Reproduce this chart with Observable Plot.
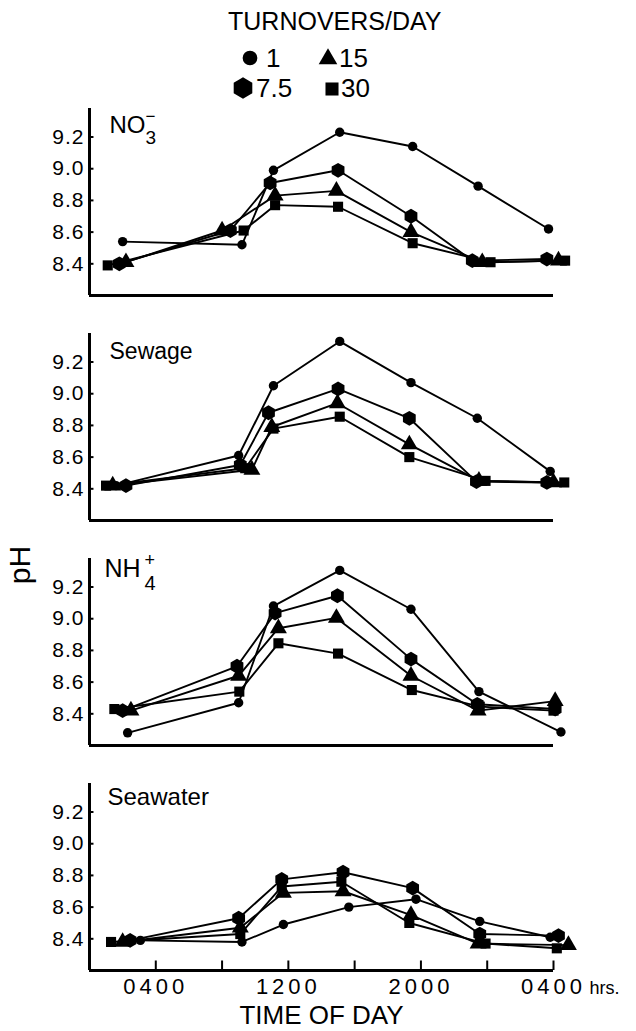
<!DOCTYPE html>
<html>
<head>
<meta charset="utf-8">
<script src="https://cdn.jsdelivr.net/npm/d3@7"></script>
<script src="https://cdn.jsdelivr.net/npm/@observablehq/plot@0.6"></script>
<style>
  html, body { margin: 0; padding: 0; background: white; }
  #wrap { position: relative; width: 636px; height: 1031px; overflow: hidden; font-family: "Liberation Sans", Arial, sans-serif; color: black; }
  #legend { position: absolute; left: 0; top: 0; overflow: visible; }
  #chart { position: absolute; left: 0; top: 100px; }
  #ylab { position: absolute; left: 20px; top: 565px; font-size: 30px; transform: translate(-50%, -50%) rotate(-90deg); white-space: nowrap; }
  .xt text { letter-spacing: 4px; }
  .yt text { letter-spacing: 1px; }
</style>
</head>
<body>
<div id="wrap">
  <svg id="legend" width="636" height="110"></svg>
  <div id="chart"></div>
  <div id="ylab">pH</div>
</div>
<script>
// ---- data: [hour of day (0 = midnight, 28 = 0400 next day), pH] ----
const panels = ["NO3", "Sewage", "NH4", "Seawater"];
const series = ["1", "7.5", "15", "30"];

const no3_1  = [[2.0, 8.54], [9.2, 8.52], [11.1, 8.99], [15.1, 9.23], [19.5, 9.14], [23.45, 8.89], [27.7, 8.62]];
const no3_75 = [[1.8, 8.40], [8.5, 8.61], [10.9, 8.91], [15.0, 8.99], [19.4, 8.70], [23.1, 8.42], [27.6, 8.43]];
const no3_15 = [[2.2, 8.41], [8.0, 8.61], [11.2, 8.83], [14.9, 8.86], [19.4, 8.60], [23.7, 8.41], [28.3, 8.42]];
const no3_30 = [[1.1, 8.39], [9.3, 8.61], [11.2, 8.77], [15.0, 8.76], [19.5, 8.53], [24.2, 8.41], [28.7, 8.42]];

const sew_1  = [[1.6, 8.42], [9.0, 8.61], [11.1, 9.05], [15.1, 9.33], [19.4, 9.07], [23.4, 8.845], [27.8, 8.51]];
const sew_75 = [[2.2, 8.42], [9.1, 8.55], [10.8, 8.88], [15.0, 9.03], [19.3, 8.845], [23.35, 8.445], [27.6, 8.44]];
const sew_15 = [[1.4, 8.42], [9.8, 8.52], [11.0, 8.79], [14.96, 8.94], [19.3, 8.68], [23.5, 8.45], [28.0, 8.44]];
const sew_30 = [[1.0, 8.42], [9.4, 8.53], [11.1, 8.78], [15.1, 8.855], [19.3, 8.60], [23.9, 8.45], [28.65, 8.44]];

const nh4_1  = [[2.3, 8.28], [9.0, 8.47], [11.1, 9.08], [15.1, 9.305], [19.4, 9.06], [23.5, 8.54], [28.45, 8.285]];
const nh4_75 = [[2.0, 8.42], [8.9, 8.70], [11.2, 9.035], [14.96, 9.145], [19.4, 8.745], [23.4, 8.46], [28.1, 8.43]];
const nh4_15 = [[2.5, 8.42], [9.0, 8.64], [11.4, 8.94], [14.9, 9.005], [19.4, 8.64], [23.45, 8.42], [28.1, 8.48]];
const nh4_30 = [[1.5, 8.43], [9.04, 8.54], [11.4, 8.845], [15.0, 8.78], [19.45, 8.55], [23.55, 8.445], [28.0, 8.42]];

const sea_1  = [[3.07, 8.39], [9.2, 8.38], [11.7, 8.49], [15.65, 8.60], [19.7, 8.65], [23.55, 8.51], [27.8, 8.41]];
const sea_75 = [[2.45, 8.39], [9.0, 8.53], [11.6, 8.775], [15.3, 8.82], [19.5, 8.72], [23.55, 8.43], [28.3, 8.42]];
const sea_15 = [[2.0, 8.38], [9.1, 8.47], [11.7, 8.69], [15.3, 8.70], [19.4, 8.55], [23.45, 8.37], [28.9, 8.36]];
const sea_30 = [[1.3, 8.38], [9.1, 8.43], [11.6, 8.73], [15.2, 8.76], [19.3, 8.50], [23.9, 8.37], [28.2, 8.34]];

const yTicks = [8.4, 8.6, 8.8, 9.0, 9.2];
const xTicks = [4, 8, 12, 16, 20, 24, 28];
const xLabelHours = [4, 12, 20, 28];
const xLabels = ["0400", "1200", "2000", "0400"];
const yDomain = [8.2, 9.38];
const xDomain = [0, 28];

// ---- build table ----
const sets = {
  NO3: [no3_1, no3_75, no3_15, no3_30],
  Sewage: [sew_1, sew_75, sew_15, sew_30],
  NH4: [nh4_1, nh4_75, nh4_15, nh4_30],
  Seawater: [sea_1, sea_75, sea_15, sea_30]
};
const rows = [];
for (const p of panels) {
  sets[p].forEach((arr, i) => {
    for (const [h, ph] of arr) rows.push({panel: p, series: series[i], h, ph});
  });
}
const bySeries = s => rows.filter(d => d.series === s);

const symbols = {"1": "circle", "7.5": "hexagon", "15": "triangle", "30": "square"};
const radii = {"1": 4.7, "7.5": 6.4, "15": 6.3, "30": 5.7};

const lbl = (panel, text, opts) => Plot.text([{panel, text}], {
  text: "text", fy: "panel", frameAnchor: "top-left", textAnchor: "start", lineAnchor: "top", fill: "black", ...opts
});

const chart = Plot.plot({
  width: 636,
  height: 931,
  marginLeft: 89,
  marginRight: 83,
  marginTop: 8,
  marginBottom: 61,
  style: {fontFamily: "'Liberation Sans', Arial, sans-serif", color: "black", background: "white", overflow: "visible"},
  x: {domain: xDomain},
  y: {domain: yDomain},
  fy: {domain: panels, paddingInner: 0.171, paddingOuter: 0, axis: null, label: null},
  marks: [
    Plot.ruleX([xDomain[0]], {stroke: "black", strokeWidth: 3}),
    Plot.ruleY([yDomain[0]], {stroke: "black", strokeWidth: 3}),
    Plot.ruleY(yTicks, {x1: 0, x2: 0.27, stroke: "black", strokeWidth: 2}),
    Plot.axisY({ticks: yTicks, tickSize: 0, tickPadding: 5, tickFormat: d3.format(".1f"), fontSize: 21, label: null, className: "yt"}),
    Plot.ruleX(xTicks, {x: d => d, y1: yDomain[0], y2: yDomain[0] + 0.06, fy: () => "Seawater", stroke: "black", strokeWidth: 2}),
    Plot.axisX({ticks: xLabelHours, tickSize: 0, tickPadding: 8, tickFormat: (d, i) => xLabels[i], fontSize: 22, label: null, className: "xt"}),
    Plot.text(["hrs."], {x: 28, fy: () => "Seawater", frameAnchor: "bottom", dx: 36, dy: 11, lineAnchor: "top", textAnchor: "start", fontSize: 18}),
    Plot.text(["TIME OF DAY"], {fy: () => "Seawater", frameAnchor: "bottom", dx: 0, dy: 35, lineAnchor: "top", fontSize: 26}),
    Plot.line(rows, {x: "h", y: "ph", z: "series", fy: "panel", stroke: "black", strokeWidth: 1.9}),
    ...series.map(s => Plot.dot(bySeries(s), {x: "h", y: "ph", fy: "panel", symbol: symbols[s], r: radii[s], fill: "black", stroke: "none"})),
    lbl("NO3", "NO", {dx: 20, dy: 7, fontSize: 24}),
    lbl("NO3", "3", {dx: 56, dy: 22, fontSize: 19}),
    lbl("NO3", "−", {dx: 56, dy: 1, fontSize: 17}),
    lbl("Sewage", "Sewage", {dx: 20, dy: 9, fontSize: 23}),
    lbl("NH4", "NH", {dx: 15, dy: 1, fontSize: 25}),
    lbl("NH4", "4", {dx: 55, dy: 17, fontSize: 20}),
    lbl("NH4", "+", {dx: 55, dy: -5, fontSize: 18}),
    lbl("Seawater", "Seawater", {dx: 18, dy: 4, fontSize: 24})
  ]
});
document.getElementById("chart").appendChild(chart);

// ---- legend ----
const lg = d3.select("#legend").style("font-family", "'Liberation Sans', Arial, sans-serif");
lg.append("text").attr("x", 228).attr("y", 30).attr("font-size", 25).text("TURNOVERS/DAY");
const hexagon = {draw(ctx, size) {
  const r = Math.sqrt(size / (1.5 * Math.sqrt(3)));
  for (let k = 0; k < 6; k++) {
    const a = Math.PI / 6 + k * Math.PI / 3;
    k ? ctx.lineTo(r * Math.cos(a), r * Math.sin(a)) : ctx.moveTo(r * Math.cos(a), r * Math.sin(a));
  }
  ctx.closePath();
}};
const legendItems = [
  {s: "1", type: d3.symbolCircle, size: 170, cx: 250, cy: 58, tx: 266, ty: 67},
  {s: "15", type: d3.symbolTriangle, size: 150, cx: 328, cy: 59, tx: 339, ty: 67},
  {s: "7.5", type: hexagon, size: 300, cx: 243, cy: 88, tx: 256, ty: 97},
  {s: "30", type: d3.symbolSquare, size: 170, cx: 332, cy: 89, tx: 341, ty: 97}
];
for (const it of legendItems) {
  lg.append("path").attr("d", d3.symbol(it.type, it.size)()).attr("transform", `translate(${it.cx},${it.cy})`).attr("fill", "black");
  lg.append("text").attr("x", it.tx).attr("y", it.ty).attr("font-size", 26).text(it.s);
}
</script>
</body>
</html>
